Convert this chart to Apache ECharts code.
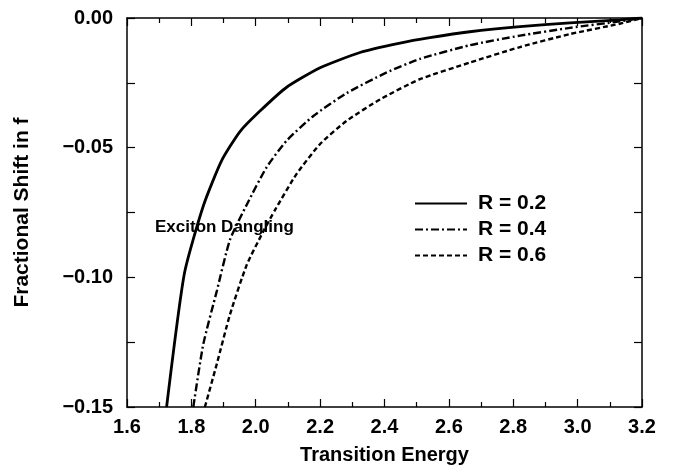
<!DOCTYPE html>
<html>
<head>
<meta charset="utf-8">
<script src="https://cdn.jsdelivr.net/npm/echarts@6/dist/echarts.min.js"></script>
<style>
  html, body { margin: 0; padding: 0; background: #fff; }
  #chart { width: 681px; height: 470px; }
</style>
</head>
<body>
<div id="chart"></div>
<script>
// values
const r02X = [1.723, 1.778, 1.837, 1.894, 1.951, 2.013, 2.096, 2.200, 2.324, 2.448, 2.541, 2.665, 2.821, 2.976, 3.131, 3.2];
const r02Y = [-0.15, -0.0987, -0.0725, -0.055, -0.0438, -0.0359, -0.0267, -0.0192, -0.0133, -0.0097, -0.0076, -0.0053, -0.0033, -0.0019, -0.0007, 0];

const r04X = [1.806, 1.837, 1.879, 1.920, 1.972, 2.034, 2.096, 2.179, 2.282, 2.407, 2.510, 2.665, 2.821, 2.976, 3.131, 3.2];
const r04Y = [-0.15, -0.1258, -0.1053, -0.0855, -0.072, -0.0575, -0.0473, -0.0378, -0.029, -0.021, -0.0158, -0.0105, -0.0068, -0.0038, -0.0013, 0];

const r06X = [1.842, 1.879, 1.920, 1.972, 2.023, 2.060, 2.127, 2.200, 2.282, 2.386, 2.510, 2.665, 2.821, 2.976, 3.131, 3.2];
const r06Y = [-0.15, -0.1334, -0.1143, -0.0952, -0.0824, -0.074, -0.0601, -0.0486, -0.0397, -0.0314, -0.0236, -0.0172, -0.0112, -0.0062, -0.0022, 0];

const seriesNames = ["R = 0.2", "R = 0.4", "R = 0.6"];

const font = "Liberation Sans";
const pairs = (xs, ys) => xs.map((x, i) => [x, ys[i]]);

const chart = echarts.init(document.getElementById("chart"));

const xBase = {
  type: "value",
  min: 1.6,
  max: 3.2,
  interval: 0.2,
  axisLine: { show: true, onZero: false, lineStyle: { color: "#000", width: 1.5 } },
  axisTick: { show: true, inside: true, length: 8, lineStyle: { color: "#000", width: 1.2 } },
  minorTick: { show: true, splitNumber: 2, length: 5, lineStyle: { color: "#000", width: 1.2 } },
  splitLine: { show: false },
};
const yBase = {
  type: "value",
  min: -0.15,
  max: 0,
  interval: 0.05,
  axisLine: { show: true, onZero: false, lineStyle: { color: "#000", width: 1.5 } },
  axisTick: { show: true, inside: true, length: 8, lineStyle: { color: "#000", width: 1.2 } },
  minorTick: { show: true, splitNumber: 2, length: 8, lineStyle: { color: "#000", width: 1.2 } },
  splitLine: { show: false },
};

const option = {
  backgroundColor: "#fff",
  animation: false,
  grid: { left: 127, top: 18, right: 39, bottom: 60 },
  legend: {
    data: seriesNames,
    orient: "vertical",
    left: 409,
    top: 188,
    itemWidth: 52,
    itemHeight: 20,
    itemGap: 5,
    itemStyle: { opacity: 0, color: "transparent", borderWidth: 0 },
    textStyle: { fontFamily: font, fontWeight: "bold", fontSize: 21, lineHeight: 20, color: "#000", padding: [0, 0, 0, 6] },
  },
  xAxis: [
    Object.assign({}, xBase, {
      position: "bottom",
      name: "Transition Energy",
      nameLocation: "middle",
      nameGap: 38,
      nameTextStyle: { fontFamily: font, fontWeight: "bold", fontSize: 20, color: "#000" },
      axisLabel: { fontFamily: font, fontWeight: "bold", fontSize: 20, color: "#000", margin: 10,
        formatter: (v) => v.toFixed(1) },
    }),
    Object.assign({}, xBase, { position: "top", axisLabel: { show: false } }),
  ],
  yAxis: [
    Object.assign({}, yBase, {
      position: "left",
      name: "Fractional Shift in f",
      nameLocation: "middle",
      nameGap: 94,
      nameTextStyle: { fontFamily: font, fontWeight: "bold", fontSize: 21, color: "#000" },
      axisLabel: { fontFamily: font, fontWeight: "bold", fontSize: 20, color: "#000", margin: 14,
        formatter: (v) => (Math.abs(v) < 1e-9 ? "0.00" : v.toFixed(2).replace("-", "\u2212")) },
    }),
    Object.assign({}, yBase, { position: "right", axisLabel: { show: false } }),
  ],
  graphic: [
    {
      type: "text",
      left: 155,
      top: 219,
      style: { text: "Exciton Dangling", fontFamily: font, fontWeight: "bold", fontSize: 17, fill: "#000" },
    },
  ],
  series: [
    {
      name: seriesNames[0],
      type: "line",
      data: pairs(r02X, r02Y),
      symbol: "none",
      smooth: 0.2,
      lineStyle: { color: "#000", width: 2.8, type: "solid" },
    },
    {
      name: seriesNames[1],
      type: "line",
      data: pairs(r04X, r04Y),
      symbol: "none",
      smooth: 0.2,
      lineStyle: { color: "#000", width: 2.4, type: [8, 3, 2, 3] },
    },
    {
      name: seriesNames[2],
      type: "line",
      data: pairs(r06X, r06Y),
      symbol: "none",
      smooth: 0.2,
      lineStyle: { color: "#000", width: 2.4, type: [5, 3] },
    },
  ],
};

chart.setOption(option);
</script>
</body>
</html>
